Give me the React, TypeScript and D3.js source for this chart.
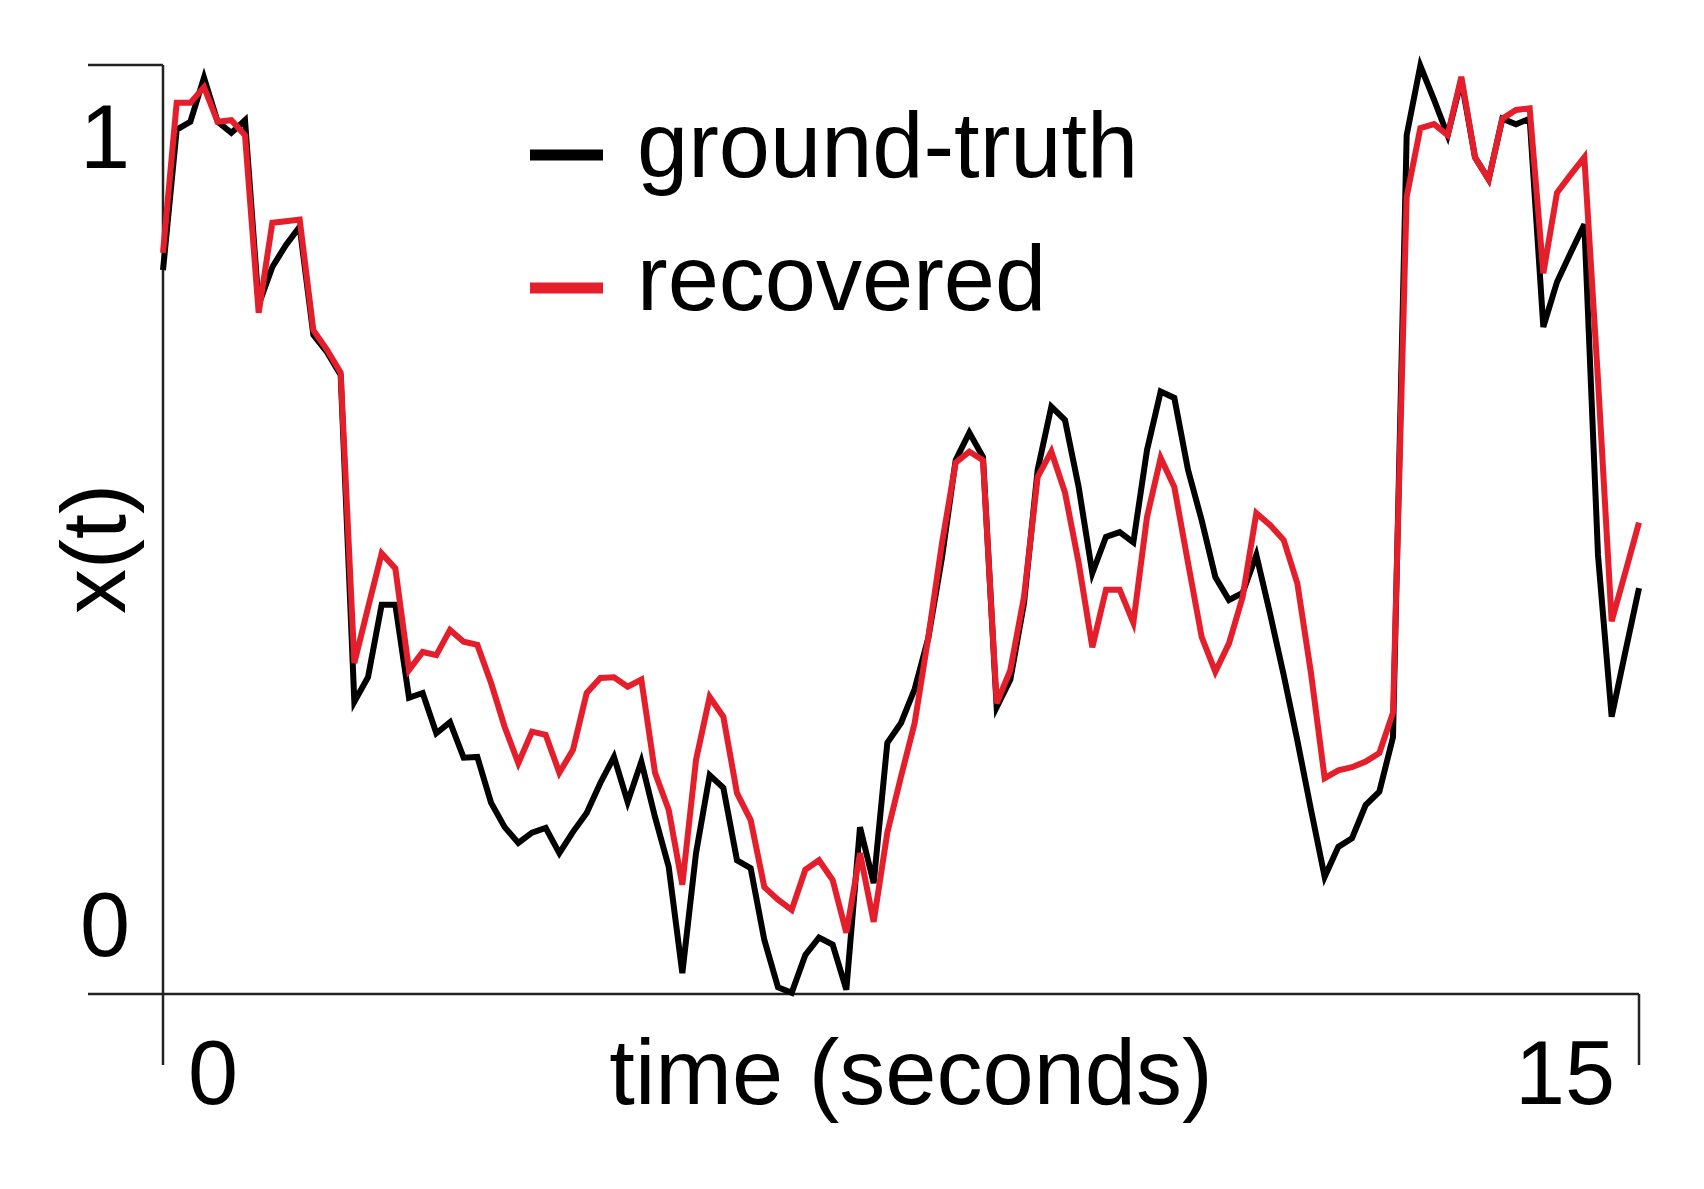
import React from "react";
import * as d3 from "d3";

// sampled signal: 109 samples over 15 seconds
const duration = 15;
const groundTruth = [
  0.830, 1.008, 1.018, 1.074, 1.018, 1.004, 1.020, 0.786, 0.834, 0.862,
  0.885, 0.748, 0.726, 0.697, 0.283, 0.314, 0.406, 0.406, 0.288, 0.294,
  0.243, 0.257, 0.212, 0.213, 0.155, 0.124, 0.104, 0.117, 0.123, 0.091,
  0.118, 0.142, 0.180, 0.213, 0.156, 0.207, 0.137, 0.074, -0.061, 0.091,
  0.190, 0.174, 0.082, 0.072, -0.019, -0.079, -0.086, -0.038, -0.016, -0.025,
  -0.082, 0.124, 0.053, 0.231, 0.256, 0.299, 0.364, 0.466, 0.589, 0.624,
  0.593, 0.276, 0.311, 0.408, 0.577, 0.657, 0.640, 0.555, 0.446, 0.492,
  0.498, 0.485, 0.602, 0.676, 0.668, 0.577, 0.513, 0.441, 0.412, 0.421,
  0.469, 0.395, 0.317, 0.234, 0.146, 0.061, 0.099, 0.110, 0.152, 0.169,
  0.238, 1.001, 1.089, 1.046, 1.001, 1.071, 0.973, 0.945, 1.022, 1.015,
  1.022, 0.758, 0.815, 0.852, 0.888, 0.469, 0.264, 0.346, 0.427,
];
const recovered = [
  0.852, 1.042, 1.042, 1.062, 1.018, 1.020, 1.001, 0.776, 0.890, 0.892,
  0.894, 0.754, 0.729, 0.700, 0.332, 0.402, 0.471, 0.452, 0.323, 0.346,
  0.342, 0.374, 0.359, 0.355, 0.307, 0.251, 0.205, 0.245, 0.241, 0.193,
  0.222, 0.294, 0.313, 0.314, 0.302, 0.311, 0.193, 0.146, 0.051, 0.209,
  0.289, 0.264, 0.167, 0.133, 0.048, 0.032, 0.019, 0.070, 0.082, 0.057,
  -0.010, 0.091, 0.004, 0.117, 0.188, 0.256, 0.365, 0.484, 0.586, 0.600,
  0.589, 0.281, 0.323, 0.416, 0.568, 0.600, 0.548, 0.459, 0.352, 0.425,
  0.425, 0.383, 0.517, 0.592, 0.555, 0.459, 0.365, 0.321, 0.357, 0.416,
  0.522, 0.507, 0.488, 0.433, 0.319, 0.186, 0.196, 0.200, 0.207, 0.218,
  0.269, 0.923, 1.010, 1.015, 1.001, 1.075, 0.973, 0.945, 1.022, 1.033,
  1.035, 0.826, 0.928, 0.951, 0.973, 0.691, 0.385, 0.447, 0.510,
];
const yTickLabels = [0, 1];
const xTickLabels = [0, 15];
const seriesNames = ["ground-truth", "recovered"];
const seriesColors = ["#000000", "#e41f2b"];

const W = 1704;
const H = 1189;
const FONT = "'Liberation Sans', Arial, Helvetica, sans-serif";

export default function App() {
  const x = d3.scaleLinear().domain([0, duration]).range([163, 1639]);
  const y = d3.scaleLinear().domain([-0.0875, 1.09]).range([994, 65]);
  const n = groundTruth.length;
  const t = (i: number) => (i * duration) / (n - 1);
  const line = d3
    .line<number>()
    .x((_, i) => x(t(i)))
    .y((d) => y(d));

  const [y0, y1] = y.domain();
  const [x0, x1] = x.domain();
  const axisColor = "#222";

  return (
    <svg
      width={W}
      height={H}
      style={{ position: "absolute", left: 0, top: 0, display: "block", background: "#fff" }}
      fontFamily={FONT}
    >
      <rect x={0} y={0} width={W} height={H} fill="#fff" />
      {/* y axis */}
      <line x1={x(x0)} x2={x(x0)} y1={y(y1)} y2={y(y0)} stroke={axisColor} strokeWidth={2.5} />
      {[y0, y1].map((v, i) => (
        <line key={"yt" + i} x1={x(x0) - 75} x2={x(x0)} y1={y(v)} y2={y(v)} stroke={axisColor} strokeWidth={2.5} />
      ))}
      {/* x axis */}
      <line x1={x(x0)} x2={x(x1)} y1={y(y0)} y2={y(y0)} stroke={axisColor} strokeWidth={2.5} />
      {[x0, x1].map((v, i) => (
        <line key={"xt" + i} x1={x(v)} x2={x(v)} y1={y(y0)} y2={y(y0) + 71} stroke={axisColor} strokeWidth={2.5} />
      ))}
      {/* y tick labels */}
      {yTickLabels.map((v) => (
        <text key={"yl" + v} x={130} y={y(v)} dy="0.35em" textAnchor="end" fontSize={90} fill="#000">
          {v}
        </text>
      ))}
      {/* x tick labels */}
      <text x={x(xTickLabels[0]) + 50} y={1104} textAnchor="middle" fontSize={90} fill="#000">
        {xTickLabels[0]}
      </text>
      <text x={x(xTickLabels[1]) - 74} y={1104} textAnchor="middle" fontSize={90} fill="#000">
        {xTickLabels[1]}
      </text>
      <text x={911} y={1104} textAnchor="middle" fontSize={92} fill="#000">
        time (seconds)
      </text>
      <text
        transform={`translate(125,549) rotate(-90)`}
        textAnchor="middle"
        fontSize={90}
        fill="#000"
      >
        x(t)
      </text>
      {/* series */}
      <path d={line(groundTruth) || ""} fill="none" stroke={seriesColors[0]} strokeWidth={6} strokeLinejoin="miter" />
      <path d={line(recovered) || ""} fill="none" stroke={seriesColors[1]} strokeWidth={6} strokeLinejoin="miter" />
      {/* legend */}
      {seriesNames.map((name, i) => (
        <g key={name} transform={`translate(0,${155 + i * 133})`}>
          <line x1={530} x2={603} y1={0} y2={0} stroke={seriesColors[i]} strokeWidth={11} />
          <text x={637} y={22} fontSize={92} fill="#000">
            {name}
          </text>
        </g>
      ))}
    </svg>
  );
}
